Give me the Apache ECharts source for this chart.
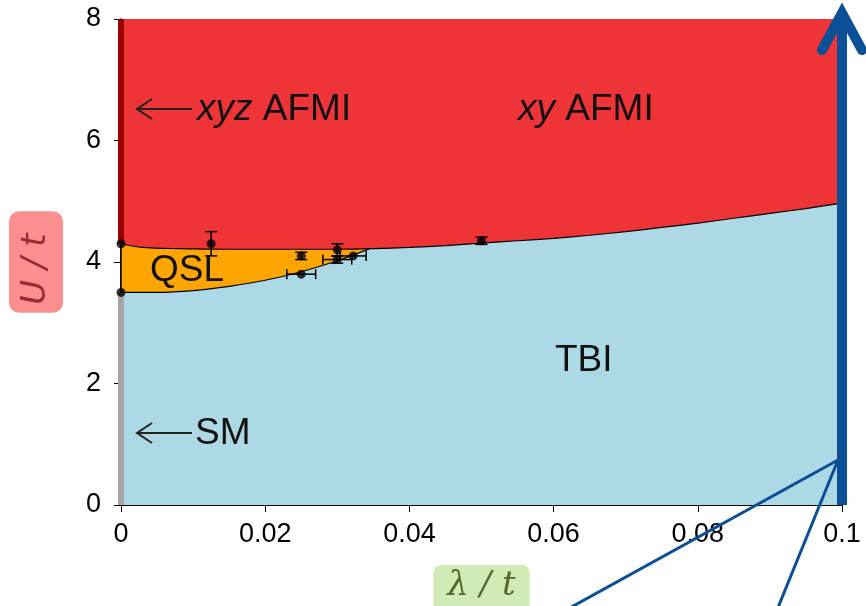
<!DOCTYPE html>
<html>
<head>
<meta charset="utf-8">
<script src="https://cdn.jsdelivr.net/npm/echarts@6/dist/echarts.min.js"></script>
<style>html,body{margin:0;padding:0;background:#fff;}#c{width:866px;height:606px;}</style>
</head>
<body>
<div id="c"></div>
<script>
// Phase boundaries (λ/t, U/t)
const upperLam = [0, 0.003, 0.008, 0.015, 0.022, 0.03, 0.035, 0.04, 0.045, 0.05, 0.055, 0.06, 0.065, 0.07, 0.075, 0.08, 0.085, 0.09, 0.095, 0.1];
const upperU   = [4.3, 4.24, 4.22, 4.21, 4.21, 4.21, 4.22, 4.24, 4.27, 4.31, 4.35, 4.39, 4.44, 4.5, 4.57, 4.64, 4.72, 4.8, 4.88, 4.97];
const lowerLam = [0, 0.005, 0.01, 0.015, 0.02, 0.025, 0.03, 0.0345];
const lowerU   = [3.5, 3.5, 3.53, 3.6, 3.7, 3.84, 4.02, 4.22];
// Data points with error bars
const ptLam    = [0, 0, 0.0125, 0.025, 0.025, 0.03, 0.03, 0.0322, 0.05];
const ptU      = [4.3, 3.5, 4.3, 4.1, 3.8, 4.2, 4.04, 4.1, 4.35];
const ptUErr   = [0, 0, 0.2, 0.06, 0, 0.1, 0.06, 0, 0.06];
const ptLamErr = [0, 0, 0, 0, 0.002, 0, 0.002, 0.0018, 0];
// Axis ticks
const xTicks = [0, 0.02, 0.04, 0.06, 0.08, 0.1];
const yTicks = [0, 2, 4, 6, 8];

const pairs = (a, b) => a.map((v, i) => [v, b[i]]);
const upper = pairs(upperLam, upperU);
const lower = pairs(lowerLam, lowerU);
const pts = ptLam.map((v, i) => [v, ptU[i], ptUErr[i], ptLamErr[i]]);

const chart = echarts.init(document.getElementById('c'));
const FONT = 'Liberation Sans, Arial, sans-serif';
const lbl = {fontFamily: FONT, fontSize: 27, color: '#000'};
const ann = (x, y, text, rich) => ({type: 'text', x: x, y: y, z: 10,
  style: Object.assign({text: text, fontFamily: FONT, fontSize: 37, fill: '#111', verticalAlign: 'middle'}, rich ? {rich: rich} : {})});
const richIt = {
  i: {fontFamily: FONT, fontStyle: 'italic', fontSize: 37, fill: '#111'},
  n: {fontFamily: FONT, fontSize: 37, fill: '#111'}
};
chart.setOption({
  animation: false,
  grid: {left: 121, right: 24, top: 19, bottom: 101, outerBoundsMode: 'none', containLabel: false},
  xAxis: [{
    type: 'value', min: xTicks[0], max: xTicks[xTicks.length - 1], interval: 0.02,
    axisLine: {show: true, lineStyle: {color: '#000', width: 1.5}},
    axisTick: {show: true, inside: true, length: 7, lineStyle: {color: '#000'}},
    splitLine: {show: false},
    axisLabel: Object.assign({margin: 16, formatter: v => String(+v.toFixed(2))}, lbl),
    name: 'λ / t', nameLocation: 'middle', nameGap: 60,
    nameTextStyle: {fontFamily: 'DejaVu Serif, serif', fontStyle: 'italic', fontSize: 34, color: '#5a6630',
      backgroundColor: '#d0ebb6', borderRadius: 8, padding: [4, 14, 18, 14]}
  }, {
    type: 'value', position: 'top', min: 0, max: 0.1, interval: 0.02,
    axisLine: {show: true, lineStyle: {color: '#000', width: 1.5}},
    axisTick: {show: true, inside: true, length: 7, lineStyle: {color: '#000'}},
    axisLabel: {show: false}, splitLine: {show: false}
  }],
  yAxis: [{
    type: 'value', min: yTicks[0], max: yTicks[yTicks.length - 1], interval: 2,
    axisLine: {show: true, lineStyle: {color: '#000', width: 1.5}},
    axisTick: {show: true, inside: true, length: 7, lineStyle: {color: '#000'}},
    splitLine: {show: false},
    axisLabel: Object.assign({margin: 20}, lbl),
    name: 'U / t', nameLocation: 'middle', nameGap: 58, nameRotate: 90,
    nameTextStyle: {fontFamily: 'DejaVu Sans, sans-serif', fontStyle: 'italic', fontSize: 34, color: '#a0282f',
      backgroundColor: '#fb8f8f', borderRadius: 10, padding: [10, 22, 10, 8]}
  }, {
    type: 'value', position: 'right', min: 0, max: 8, interval: 2,
    axisLine: {show: false},
    axisTick: {show: true, inside: true, length: 7, lineStyle: {color: '#000'}},
    axisLabel: {show: false}, splitLine: {show: false}
  }],
  series: [
    {type: 'line', data: upper, smooth: 0.3, symbol: 'none', lineStyle: {width: 0},
     areaStyle: {color: '#add8e6', opacity: 1, origin: 'start'}, z: 1},
    {type: 'line', data: lower, smooth: 0.3, symbol: 'none', lineStyle: {width: 1.2, color: '#000'},
     areaStyle: {color: '#ffa500', opacity: 1, origin: 'end'}, z: 2},
    {type: 'line', data: upper, smooth: 0.3, symbol: 'none', lineStyle: {width: 1.2, color: '#000'},
     areaStyle: {color: '#ef3437', opacity: 1, origin: 'end'}, z: 3},
    {type: 'line', data: [[0, upperU[0]], [0, 8]], symbol: 'none', clip: false,
     lineStyle: {width: 6, color: '#9a0000', cap: 'butt'}, z: 4},
    {type: 'line', data: [[0, 0], [0, lowerU[0]]], symbol: 'none', clip: false,
     lineStyle: {width: 6, color: '#a6a6a6', cap: 'butt'}, z: 4},
    {type: 'line', data: [[0, lowerU[0]], [0, upperU[0]]], symbol: 'none', clip: false,
     lineStyle: {width: 1.5, color: '#000'}, z: 5},
    {type: 'custom', data: pts, clip: false, z: 6,
     renderItem: function (params, api) {
       const x = api.value(0), y = api.value(1), ue = api.value(2), le = api.value(3);
       const ch = [];
       const st = {stroke: '#000', lineWidth: 1.5};
       if (ue > 0) {
         const a = api.coord([x, y - ue]), b = api.coord([x, y + ue]);
         ch.push({type: 'line', shape: {x1: a[0], y1: a[1], x2: b[0], y2: b[1]}, style: st});
         ch.push({type: 'line', shape: {x1: a[0] - 6, y1: a[1], x2: a[0] + 6, y2: a[1]}, style: st});
         ch.push({type: 'line', shape: {x1: b[0] - 6, y1: b[1], x2: b[0] + 6, y2: b[1]}, style: st});
       }
       if (le > 0) {
         const a = api.coord([x - le, y]), b = api.coord([x + le, y]);
         ch.push({type: 'line', shape: {x1: a[0], y1: a[1], x2: b[0], y2: b[1]}, style: st});
         ch.push({type: 'line', shape: {x1: a[0], y1: a[1] - 5, x2: a[0], y2: a[1] + 5}, style: st});
         ch.push({type: 'line', shape: {x1: b[0], y1: b[1] - 5, x2: b[0], y2: b[1] + 5}, style: st});
       }
       return {type: 'group', children: ch};
     }},
    {type: 'scatter', data: pts.map(p => [p[0], p[1]]), symbol: 'circle', symbolSize: 9, clip: false,
     itemStyle: {color: '#000'}, z: 7}
  ],
  graphic: [
    // arrows to the λ=0 edge
    {type: 'polyline', shape: {points: [[152, 99], [137, 109], [152, 119]]}, style: {stroke: '#222', lineWidth: 2, fill: null}, z: 10},
    {type: 'line', shape: {x1: 137, y1: 109, x2: 192, y2: 109}, style: {stroke: '#222', lineWidth: 2}, z: 10},
    {type: 'polyline', shape: {points: [[152, 423], [137, 433], [152, 443]]}, style: {stroke: '#222', lineWidth: 2, fill: null}, z: 10},
    {type: 'line', shape: {x1: 137, y1: 433, x2: 192, y2: 433}, style: {stroke: '#222', lineWidth: 2}, z: 10},
    ann(197, 110, '{i|xyz} {n|AFMI}', richIt),
    ann(518, 110, '{i|xy} {n|AFMI}', richIt),
    ann(150, 271, 'QSL'),
    ann(555, 361, 'TBI'),
    ann(195, 434, 'SM'),
    // big blue arrow
    {type: 'line', shape: {x1: 842, y1: 505, x2: 842, y2: 14}, style: {stroke: '#0b4f96', lineWidth: 10}, z: 11},
    {type: 'polyline', shape: {points: [[822, 50], [842, 13], [862, 50]]}, style: {stroke: '#0b4f96', lineWidth: 10, lineCap: 'round', lineJoin: 'miter', fill: null}, z: 11},
    {type: 'line', shape: {x1: 838, y1: 460, x2: 566, y2: 610}, style: {stroke: '#0b4f96', lineWidth: 3}, z: 11},
    {type: 'line', shape: {x1: 838, y1: 460, x2: 777, y2: 610}, style: {stroke: '#0b4f96', lineWidth: 3}, z: 11}
  ]
});
</script>
</body>
</html>
